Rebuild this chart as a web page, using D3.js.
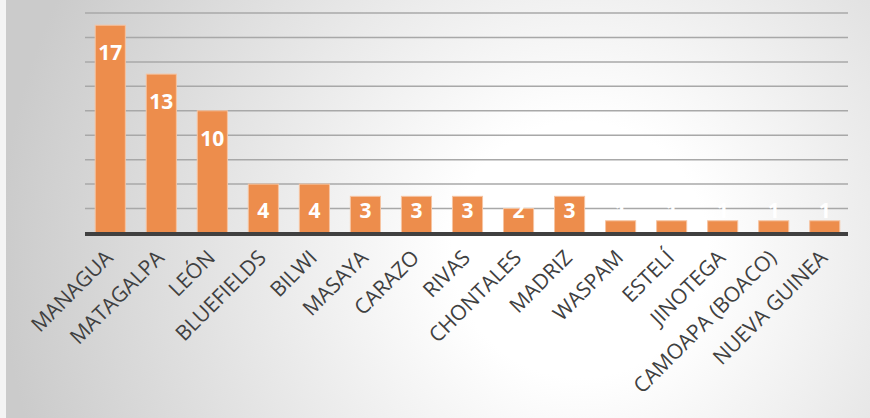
<!DOCTYPE html>
<html lang="es">
<head>
<meta charset="utf-8">
<script src="https://d3js.org/d3.v7.min.js"></script>
<style>
  body { margin: 0; background: #fff; }
  svg { display: block; }
</style>
</head>
<body>
<script>
const width = 870;
const height = 418;

// data
const cities = ["MANAGUA", "MATAGALPA", "LEÓN", "BLUEFIELDS", "BILWI", "MASAYA", "CARAZO", "RIVAS",
                "CHONTALES", "MADRIZ", "WASPAM", "ESTELÍ", "JINOTEGA", "CAMOAPA (BOACO)", "NUEVA GUINEA"];
const counts = [17, 13, 10, 4, 4, 3, 3, 3, 2, 3, 1, 1, 1, 1, 1];
const gridTicks = [2, 4, 6, 8, 10, 12, 14, 16, 18];

const margin = {left: 85, right: 20, top: 13, bottom: 185};

const svg = d3.select("body").append("svg")
    .attr("width", width).attr("height", height);

const defs = svg.append("defs");
const bg = defs.append("radialGradient").attr("id", "bg")
    .attr("gradientUnits", "userSpaceOnUse")
    .attr("cx", 580).attr("cy", 250).attr("r", 580);
bg.append("stop").attr("offset", "0%").attr("stop-color", "#ffffff");
bg.append("stop").attr("offset", "22%").attr("stop-color", "#ffffff");
bg.append("stop").attr("offset", "100%").attr("stop-color", "#cbcbcb");

svg.append("rect").attr("width", width).attr("height", height).attr("fill", "#f4f4f4");
svg.append("rect").attr("x", 6).attr("y", 0).attr("width", width - 6).attr("height", height)
    .attr("fill", "url(#bg)");

const x = d3.scaleBand().domain(cities)
    .range([margin.left, width - margin.right]).paddingInner(0.41).paddingOuter(0.2);
const y = d3.scaleLinear().domain([0, 18]).range([height - margin.bottom, margin.top]);

// gridlines
svg.append("g").selectAll("line").data(gridTicks).join("line")
    .attr("x1", margin.left).attr("x2", width - margin.right - 2)
    .attr("y1", d => y(d)).attr("y2", d => y(d))
    .attr("stroke", "#a8a8a8").attr("stroke-width", 1.5);

// bars
svg.append("g").selectAll("rect").data(counts).join("rect")
    .attr("x", (d, i) => x(cities[i]))
    .attr("y", d => y(d))
    .attr("width", x.bandwidth())
    .attr("height", d => y(0) - y(d))
    .attr("fill", "#ed8d4c")
    .attr("stroke", "#f6c4a2").attr("stroke-width", 1);

// baseline
svg.append("line")
    .attr("x1", margin.left).attr("x2", width - margin.right - 2)
    .attr("y1", y(0) + 1).attr("y2", y(0) + 1)
    .attr("stroke", "#404040").attr("stroke-width", 4);

// value labels
svg.append("g").selectAll("text").data(counts).join("text")
    .attr("x", (d, i) => x(cities[i]) + x.bandwidth() / 2)
    .attr("y", d => Math.min(y(d) + 27, 210) + 8)
    .attr("text-anchor", "middle")
    .attr("font-family", "'Open Sans', sans-serif")
    .attr("font-weight", "bold")
    .attr("font-size", 21)
    .attr("fill", "#ffffff")
    .text(d => d);

// category labels
svg.append("g").selectAll("text").data(cities).join("text")
    .attr("transform", d => `translate(${x(d) + x.bandwidth() / 2 + 4},${y(0) + 26}) rotate(-45)`)
    .attr("text-anchor", "end")
    .attr("font-family", "'Open Sans', sans-serif")
    .attr("font-size", 21)
    .attr("fill", "#404040")
    .text(d => d);
</script>
</body>
</html>
